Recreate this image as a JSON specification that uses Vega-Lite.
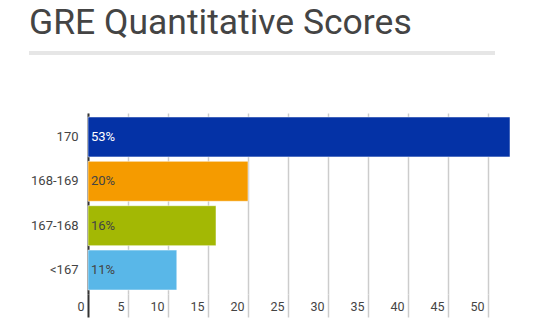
{
  "$schema": "https://vega.github.io/schema/vega-lite/v6.json",
  "background": "white",
  "padding": {"left": 29, "top": 5, "right": 0, "bottom": 0},
  "config": {"font": "Roboto", "view": {"stroke": null}},
  "spacing": 58,
  "vconcat": [
    {
      "title": {"text": "GRE Quantitative Scores", "anchor": "start", "fontSize": 35.5, "fontWeight": "normal", "color": "#444444", "font": "Roboto", "offset": 10},
      "width": 424,
      "height": 4,
      "data": {"values": [{"start": -7.375, "end": 50.875}]},
      "mark": {"type": "rect", "color": "#e6e6e6", "clip": false},
      "encoding": {
        "x": {"field": "start", "type": "quantitative", "scale": {"domain": [0, 53], "nice": false, "zero": false}, "axis": null},
        "x2": {"field": "end"}
      }
    },
    {
      "width": 424,
      "height": 181,
      "data": {
        "values": [
          {"score": "170", "pct": 52.75, "label": "53%", "color": "#0432A6", "tc": "white"},
          {"score": "168-169", "pct": 20, "label": "20%", "color": "#F59B00", "tc": "#444444"},
          {"score": "167-168", "pct": 16, "label": "16%", "color": "#A3B804", "tc": "#444444"},
          {"score": "<167", "pct": 11.1, "label": "11%", "color": "#59B7E8", "tc": "#444444"}
        ]
      },
      "encoding": {
        "y": {
          "field": "score", "type": "nominal", "sort": null,
          "scale": {"paddingInner": 0.1, "paddingOuter": 0.09},
          "axis": {"title": null, "ticks": false, "tickSize": 0, "domain": true, "domainColor": "#333333", "domainWidth": 2, "labelFontSize": 13, "labelColor": "#444444", "labelPadding": 10, "labelFont": "Roboto"}
        },
        "x": {
          "field": "pct", "type": "quantitative",
          "scale": {"domain": [0, 53], "nice": false},
          "axis": {
            "title": null, "values": [0, 5, 10, 15, 20, 25, 30, 35, 40, 45, 50],
            "grid": true, "gridColor": "#cccccc", "gridWidth": 1.5,
            "domain": false,
            "tickSize": 23,
            "tickColor": {"condition": {"test": "datum.value === 0", "value": "#333333"}, "value": "#cccccc"},
            "tickWidth": {"condition": {"test": "datum.value === 0", "value": 2}, "value": 1.5},
            "labelAlign": "right", "labelBaseline": "middle", "labelPadding": -10.5,
            "labelOffset": -4, "labelFontSize": 12.5, "labelColor": "#444444", "labelFont": "Roboto"
          }
        }
      },
      "layer": [
        {
          "mark": {"type": "bar", "stroke": "white", "strokeWidth": 1, "strokeOpacity": 0.5},
          "encoding": {"color": {"field": "color", "type": "nominal", "scale": null}}
        },
        {
          "mark": {"type": "text", "align": "left", "baseline": "middle", "dx": 3, "fontSize": 13, "font": "Roboto"},
          "encoding": {
            "x": {"datum": 0},
            "text": {"field": "label"},
            "color": {"field": "tc", "type": "nominal", "scale": null}
          }
        }
      ]
    }
  ]
}
